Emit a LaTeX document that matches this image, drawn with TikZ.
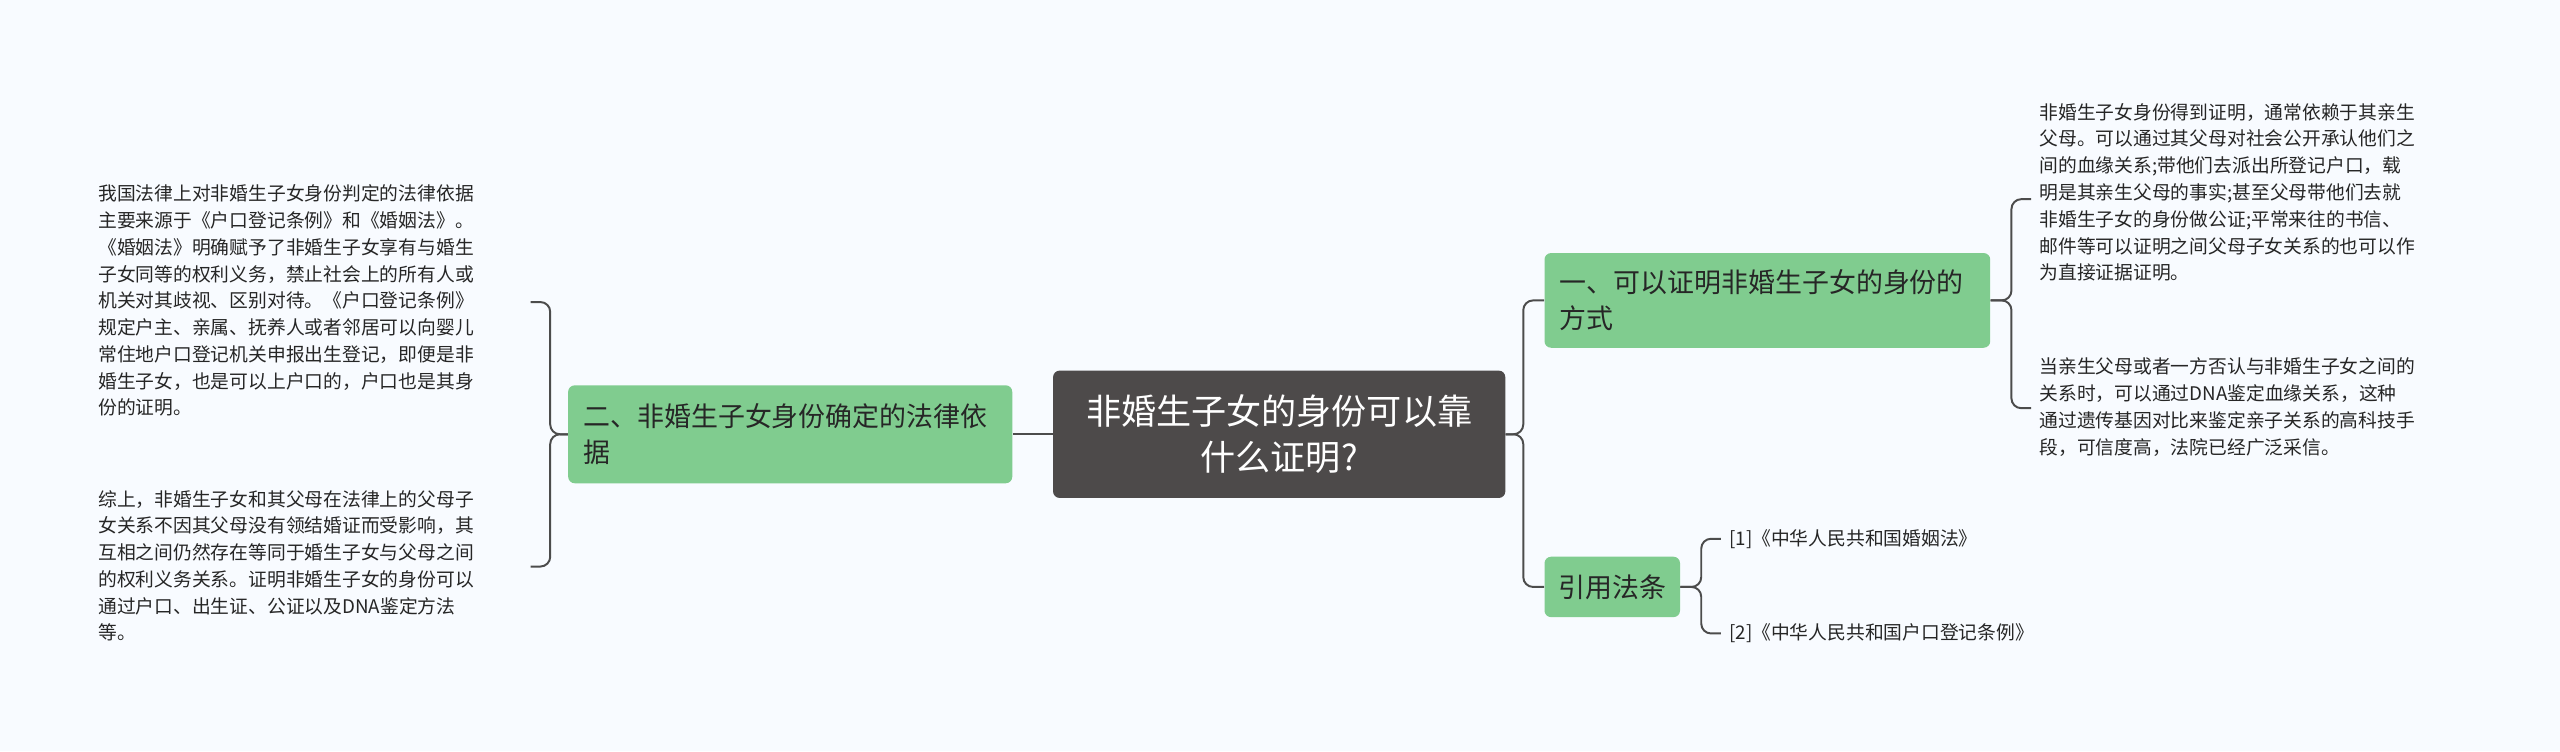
\documentclass[tikz,border=0pt]{standalone}
\usepackage{fontspec}
\setmainfont{Noto Sans CJK SC}
\begin{document}
\begin{tikzpicture}[x=1pt,y=-1pt,
  conn/.style={draw=black!70,line width=1.2pt,rounded corners=6pt},
  green/.style={rounded corners=4pt,fill={rgb,255:red,128;green,204;blue,143},inner sep=0pt},
  gtext/.style={anchor=west,align=left,font=\fontsize{16.5}{22}\selectfont,text=black!85},
  para/.style={anchor=north west,align=left,font=\fontsize{11.5}{16.4}\selectfont,text=black!85,inner sep=0pt}]
\useasboundingbox[fill={rgb,255:red,248;green,251;blue,255}] (0,0) rectangle (1568,460);
\node[fill={rgb,255:red,77;green,74;blue,74},rounded corners=4pt,minimum width=277pt,minimum height=78pt,text=white,align=center,font=\fontsize{21.5}{28}\selectfont] (c) at (783.5,266) {非婚生子女的身份可以靠\\什么证明?};
\node[green,minimum width=272pt,minimum height=60pt] (l) at (484,266) {};
\node[gtext] at ([xshift=6pt]l.west) {二、非婚生子女身份确定的法律依\\据};
\node[green,minimum width=273pt,minimum height=58pt] (r1) at (1082.5,184) {};
\node[gtext] at ([xshift=6pt]r1.west) {一、可以证明非婚生子女的身份的\\方式};
\node[green,minimum width=83pt,minimum height=37pt,font=\fontsize{16.5}{22}\selectfont,text=black!85] (r2) at (987.5,359.5) {引用法条};
\node[para] (lt1) at (60,113) {我国法律上对非婚生子女身份判定的法律依据\\主要来源于《户口登记条例》和《婚姻法》。\\《婚姻法》明确赋予了非婚生子女享有与婚生\\子女同等的权利义务，禁止社会上的所有人或\\机关对其歧视、区别对待。《户口登记条例》\\规定户主、亲属、抚养人或者邻居可以向婴儿\\常住地户口登记机关申报出生登记，即便是非\\婚生子女，也是可以上户口的，户口也是其身\\份的证明。};
\node[para] (lt2) at (60,300) {综上，非婚生子女和其父母在法律上的父母子\\女关系不因其父母没有领结婚证而受影响，其\\互相之间仍然存在等同于婚生子女与父母之间\\的权利义务关系。证明非婚生子女的身份可以\\通过户口、出生证、公证以及DNA鉴定方法\\等。};
\node[para] (rt1) at (1249,63) {非婚生子女身份得到证明，通常依赖于其亲生\\父母。可以通过其父母对社会公开承认他们之\\间的血缘关系;带他们去派出所登记户口，载\\明是其亲生父母的事实;甚至父母带他们去就\\非婚生子女的身份做公证;平常来往的书信、\\邮件等可以证明之间父母子女关系的也可以作\\为直接证据证明。};
\node[para] (rt2) at (1249,219) {当亲生父母或者一方否认与非婚生子女之间的\\关系时，可以通过DNA鉴定血缘关系，这种\\通过遗传基因对比来鉴定亲子关系的高科技手\\段，可信度高，法院已经广泛采信。};
\node[para,anchor=west] (ref1) at (1059,330) {[1]《中华人民共和国婚姻法》};
\node[para,anchor=west] (ref2) at (1059,388) {[2]《中华人民共和国户口登记条例》};
\draw[conn] (c.west) -- (l.east);
\draw[conn] (c.east) -- (933,266) |- (r1.west);
\draw[conn] (c.east) -- (933,266) |- (r2.west);
\draw[conn] (l.west) -- (337,266) |- (325,185);
\draw[conn] (l.west) -- (337,266) |- (325,347);
\draw[conn] (r1.east) -- (1232,184) |- (1244,122);
\draw[conn] (r1.east) -- (1232,184) |- (1244,250);
\draw[conn] (r2.east) -- (1042,359.5) |- (1054,330);
\draw[conn] (r2.east) -- (1042,359.5) |- (1054,388);
\end{tikzpicture}
\end{document}
